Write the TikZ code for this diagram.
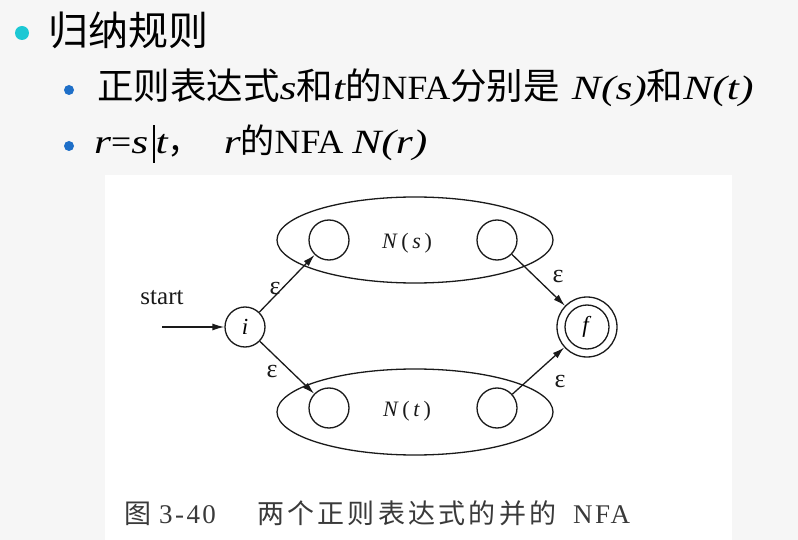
\documentclass[tikz,border=0pt]{standalone}
\usepackage{fontspec}
\setmainfont{Liberation Serif}
\newfontfamily\cjk{Noto Sans CJK SC}
\newfontfamily\pal[FakeStretch=1.05]{Liberation Serif}
\newfontfamily\palit[FakeStretch=1.28]{Liberation Serif Italic}
\newfontfamily\capcjk[LetterSpace=12]{Noto Sans CJK SC}
\newfontfamily\capl[LetterSpace=9]{Liberation Serif}
\usetikzlibrary{arrows.meta,shapes.geometric}
\definecolor{bgc}{HTML}{F6F6F6}
\definecolor{dotc}{HTML}{1CC8D4}
\definecolor{dotb}{HTML}{1E6FC8}
\definecolor{ink}{HTML}{1A1A1A}
\definecolor{capc}{HTML}{3A3A3A}
\tikzset{
  st/.style={draw=ink, line width=1.3pt, circle, minimum size=40pt, inner sep=0pt},
  grp/.style={draw=ink, line width=1.3pt, ellipse, minimum width=276pt, minimum height=86pt, inner sep=0pt},
  arr/.style={draw=ink, line width=1.3pt, -{Latex[length=12pt,width=7pt]}},
  eps/.style={font=\fontsize{26}{28}\selectfont, text=ink, inner sep=0pt},
  lbl/.style={font=\fontsize{22}{24}\selectfont, text=ink, inner sep=0pt},
  bul/.style={circle, inner sep=0pt, minimum size=#1},
  line/.style={anchor=base west, inner sep=0pt, text=black},
  capt/.style={anchor=base west, inner sep=0pt, text=capc, font=\fontsize{27}{29}\selectfont}
}
\newcommand{\ii}[1]{{\palit #1}}
\newcommand{\cc}[1]{{\cjk #1}}
\newcommand{\cw}[1]{{\cjk\fontsize{36.5}{38}\selectfont #1}}
\begin{document}
\begin{tikzpicture}[x=1pt,y=-1pt]
\useasboundingbox (0,0) rectangle (798,540);
\fill[bgc] (0,0) rectangle (798,540);
\fill[white] (105,175) rectangle (732,540);
% bullets
\node[bul=14pt, fill=dotc] (b1) at (22,33) {};
\node[line, font=\fontsize{40}{42}\selectfont] (t1) at (48,46) {\cjk 归纳规则};
\node[bul=10pt, fill=dotb] (b2) at (69,90) {};
\node[line, font=\fontsize{34}{36}\selectfont] (t2) at (97,100) {\pal\cw{正则表达式}\ii{s}\cw{和}\ii{t}\cw{的}NFA\cw{分别是}\hspace{12pt}\ii{N(s)}\cw{和}\ii{N(t)}};
\node[bul=10pt, fill=dotb] (b3) at (69,146) {};
\node[line, font=\fontsize{34}{36}\selectfont] (t3) at (94,154) {\pal\ii{r}=\ii{s}\hspace{5pt}\rule[-9pt]{1.5pt}{38pt}\hspace{1pt}\ii{t}\cc{，}\hspace{22pt}\ii{r}\cc{的}NFA \ii{N(r)}};
% groups
\node[grp] (gs) at (415,240) {};
\node[grp] (gt) at (415,412) {};
\node[st] (s1) at (329,240) {};
\node[st] (s2) at (497,240) {};
\node[st] (u1) at (329,408) {};
\node[st] (u2) at (497,408) {};
\node[lbl] (ns) at (407,243) {\textit{N}\,(\,\textit{s}\,)};
\node[lbl] (nt) at (407,411) {\textit{N}\,(\,\textit{t}\,)};
% start and final
\node[st, font=\fontsize{23}{25}\selectfont] (i) at (245,327) {\textit{i}};
\node[st, minimum size=60pt] (f) at (587,327) {};
\node[st, minimum size=44pt, font=\fontsize{23}{25}\selectfont] (fi) at (587,327) {\textit{f}};
\node[lbl, font=\fontsize{25}{27}\selectfont] (stt) at (162,298) {start};
\coordinate (st0) at (162,327);
% arrows
\draw[arr] (st0) -- (i);
\draw[arr] (i) -- (s1);
\draw[arr] (i) -- (u1);
\draw[arr] (s2) -- (f);
\draw[arr] (u2) -- (f);
% epsilons
\node[eps] (e1) at (275,289) {ε};
\node[eps] (e2) at (272,372) {ε};
\node[eps] (e3) at (558,277) {ε};
\node[eps] (e4) at (560,381) {ε};
% caption
\node[capt] (c1) at (124,523) {\capcjk 图};
\node[capt] (c2) at (159,523) {\capl 3-40};
\node[capt] (c3) at (257,523) {\capcjk 两个正则表达式的并的};
\node[capt] (c4) at (573,523) {\capl NFA};
\end{tikzpicture}
\end{document}
